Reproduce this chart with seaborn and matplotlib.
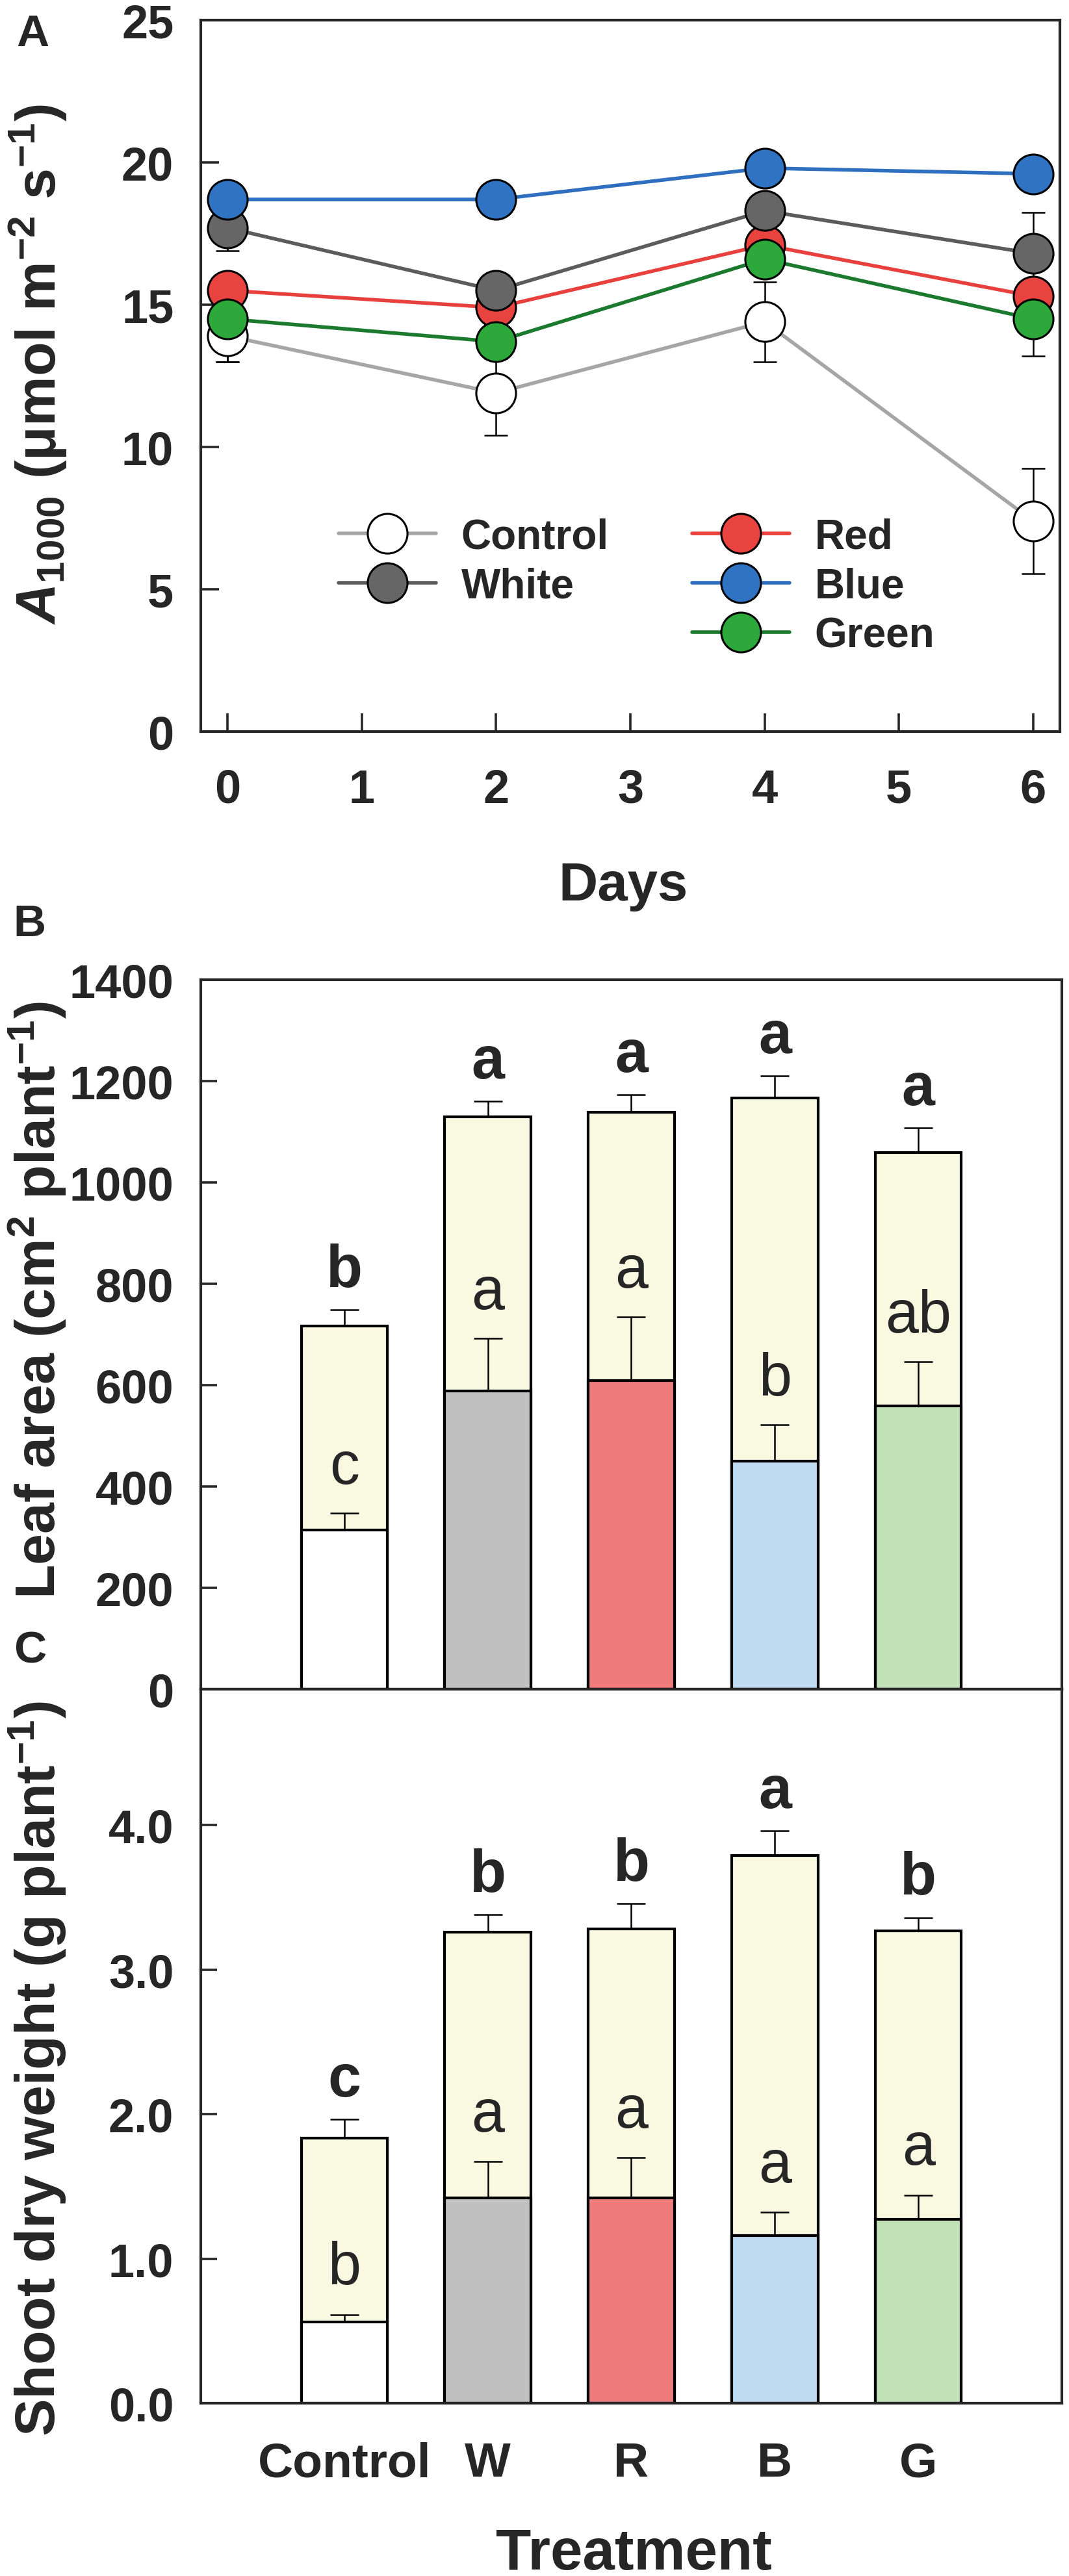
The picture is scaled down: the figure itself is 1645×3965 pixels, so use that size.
import numpy as np
import matplotlib
matplotlib.use('Agg')
import matplotlib.pyplot as plt
import seaborn as sns
from matplotlib.lines import Line2D

sns.set_style('ticks')
plt.rcParams['font.family'] = ['Liberation Sans', 'DejaVu Sans']
plt.rcParams['font.weight'] = 'bold'
plt.rcParams['mathtext.fontset'] = 'custom'
plt.rcParams['mathtext.rm'] = 'Liberation Sans:bold'
plt.rcParams['mathtext.it'] = 'Liberation Sans:italic:bold'
plt.rcParams['mathtext.bf'] = 'Liberation Sans:bold'

# ---- Panel A: A1000 over days ----
days = [0, 2, 4, 6]
a_control = [13.9, 11.9, 14.4, 7.4]
a_white = [17.7, 15.5, 18.3, 16.8]
a_red = [15.5, 14.9, 17.1, 15.3]
a_blue = [18.7, 18.7, 19.8, 19.6]
a_green = [14.5, 13.7, 16.6, 14.5]
err_control = [0.9, 1.5, 1.4, 1.85]
err_white = [0.8, 0.3, 0.3, 1.45]
err_red = [0.3, 0.3, 0.3, 0.3]
err_blue = [0.2, 0.2, 0.2, 0.2]
err_green = [1.5, 0.6, 0.4, 1.3]

# ---- Panels B and C: bars ----
treatments = ['Control', 'W', 'R', 'B', 'G']
leaf_total = [717, 1129, 1139, 1167, 1059]
leaf_total_err = [32, 31, 34, 43, 49]
leaf_part = [314, 588, 609, 450, 559]
leaf_part_err = [33, 104, 125, 72, 87]
leaf_letters_total = ['b', 'a', 'a', 'a', 'a']
leaf_letters_part = ['c', 'a', 'a', 'b', 'ab']

shoot_total = [1.835, 3.26, 3.28, 3.79, 3.27]
shoot_total_err = [0.13, 0.12, 0.175, 0.17, 0.09]
shoot_part = [0.563, 1.42, 1.42, 1.16, 1.27]
shoot_part_err = [0.05, 0.25, 0.28, 0.16, 0.17]
shoot_letters_total = ['c', 'b', 'b', 'a', 'b']
shoot_letters_part = ['b', 'a', 'a', 'a', 'a']

# styles
series = [
    ('Control', a_control, err_control, '#a6a6a6', '#ffffff'),
    ('Red', a_red, err_red, '#e8403c', '#e8433f'),
    ('White', a_white, err_white, '#5c5c5c', '#666666'),
    ('Blue', a_blue, err_blue, '#2f6fbf', '#2f73c2'),
    ('Green', a_green, err_green, '#1b7a2e', '#2da83a'),
]
total_color = '#f9f9e1'
part_colors = ['#ffffff', '#c0c0c0', '#ee7c7b', '#bedbf1', '#c3e1b7']
letter_font = ['Liberation Sans Narrow', 'Liberation Sans', 'DejaVu Sans']

W, H, DPI = 1645, 3966, 200
fig = plt.figure(figsize=(W / DPI, H / DPI), dpi=DPI)
axA = fig.add_axes([309 / W, 1 - 1127 / H, 1322 / W, 1095 / H])
axB = fig.add_axes([309 / W, 1 - 2601 / H, 1325 / W, 1092 / H])
axC = fig.add_axes([309 / W, 1 - 3700 / H, 1325 / W, 1099 / H])

msize = 22
for name, vals, err, lc, fc in series:
    sns.lineplot(x=days, y=vals, ax=axA, color=lc, linewidth=2.0, errorbar=None,
                 marker='o', markersize=msize, markerfacecolor=fc,
                 markeredgecolor='black', markeredgewidth=1.1, zorder=3)
    axA.errorbar(days, vals, yerr=err, fmt='none', ecolor='black',
                 elinewidth=0.9, capsize=6.5, capthick=0.9, zorder=2.5)

axA.set_xlim(-0.2, 6.2)
axA.set_ylim(0, 25)
axA.set_xticks(range(7))
axA.set_yticks(range(0, 26, 5))
axA.tick_params(axis='both', direction='in', length=10, width=1.3, labelsize=26)
axA.tick_params(axis='y', pad=15)
axA.tick_params(axis='x', pad=20)
axA.set_xlabel('Days', fontsize=30, fontweight='bold')
axA.xaxis.set_label_coords(0.492, -0.181)
axA.set_ylabel(r'$\it{A}_{\rm{1000}}$ (μmol m$^{-2}$ s$^{-1}$)', fontsize=31,
               fontweight='bold', va='center')
axA.yaxis.set_label_coords(-0.19, 0.517)
for sp in axA.spines.values():
    sp.set_linewidth(1.5)
    sp.set_visible(True)

style = {name: (lc, fc) for name, _, _, lc, fc in series}
handles, labels = [], []
for name in ['Control', 'White', None, 'Red', 'Blue', 'Green']:
    if name is None:
        handles.append(Line2D([], [], linestyle='none'))
        labels.append('')
        continue
    lc, fc = style[name]
    handles.append(Line2D([0], [0], color=lc, linewidth=2.0, marker='o',
                          markersize=msize, markerfacecolor=fc,
                          markeredgecolor='black', markeredgewidth=1.1))
    labels.append(name)
axA.legend(handles, labels, ncol=2, frameon=False, loc='upper left',
           bbox_to_anchor=(0.16, 0.301), borderpad=0, borderaxespad=0,
           handlelength=2.36, handletextpad=0.6, columnspacing=2.0,
           labelspacing=0.25, prop={'size': 23, 'weight': 'bold'})


def bar_panel(ax, total, total_err, part, part_err, let_total, let_part,
              off_total, off_part):
    sns.barplot(x=treatments, y=total, color=total_color, saturation=1,
                width=0.6, edgecolor='black', linewidth=1.5, ax=ax)
    sns.barplot(x=treatments, y=part, hue=treatments, palette=part_colors,
                legend=False, saturation=1, width=0.6, edgecolor='black',
                linewidth=1.5, ax=ax)
    x = np.arange(len(treatments))
    zeros = np.zeros(len(x))
    ax.errorbar(x, total, yerr=[zeros, total_err], fmt='none', ecolor='black',
                elinewidth=0.9, capsize=8, capthick=0.9, zorder=4)
    ax.errorbar(x, part, yerr=[zeros, part_err], fmt='none', ecolor='black',
                elinewidth=0.9, capsize=8, capthick=0.9, zorder=4)
    for i in range(len(x)):
        ax.text(x[i], total[i] + total_err[i] + off_total, let_total[i],
                ha='center', va='center', fontsize=33, fontweight='bold',
                family=letter_font)
        ax.text(x[i], part[i] + part_err[i] + off_part, let_part[i],
                ha='center', va='center', fontsize=33, fontweight='normal',
                family=letter_font)
    ax.set_xlim(-1, 5)
    ax.set_xlabel('')
    for sp in ax.spines.values():
        sp.set_linewidth(1.5)
        sp.set_visible(True)
    ax.tick_params(axis='y', direction='in', length=9, width=1.3,
                   labelsize=26, pad=15)
    ax.tick_params(axis='x', length=0)


bar_panel(axB, leaf_total, leaf_total_err, leaf_part, leaf_part_err,
          leaf_letters_total, leaf_letters_part, 77, 90)
axB.set_ylim(0, 1400)
axB.set_yticks(range(0, 1401, 200))
axB.set_xticklabels([])
axB.set_ylabel('Leaf area (cm$^{2}$ plant$^{-1}$)', fontsize=31,
               fontweight='bold', va='center')
axB.yaxis.set_label_coords(-0.19, 0.549)

bar_panel(axC, shoot_total, shoot_total_err, shoot_part, shoot_part_err,
          shoot_letters_total, shoot_letters_part, 0.27, 0.32)
axC.set_ylim(0, 4.94)
axC.set_yticks([0, 1, 2, 3, 4])
axC.set_yticklabels(['0.0', '1.0', '2.0', '3.0', '4.0'])
axC.tick_params(axis='x', labelsize=27, pad=21)
axC.set_xlabel('Treatment', fontsize=32, fontweight='bold')
axC.xaxis.set_label_coords(0.503, -0.173)
axC.set_ylabel('Shoot dry weight (g plant$^{-1}$)', fontsize=31,
               fontweight='bold', va='center')
axC.yaxis.set_label_coords(-0.19, 0.469)

for lab, (px, py) in zip('ABC', [(50, 53), (45, 1423), (46, 2542)]):
    fig.text(px / W, 1 - py / H, lab, ha='center', va='center',
             fontsize=25, fontweight='bold')

fig.savefig('out.png', dpi=DPI)
